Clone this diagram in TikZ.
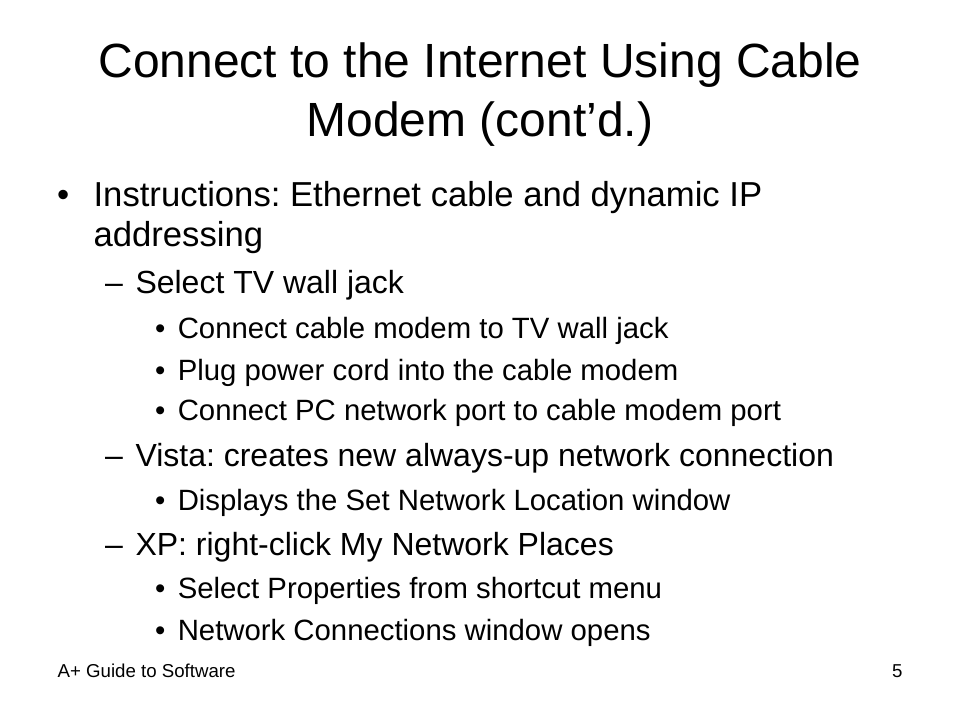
\documentclass[tikz,border=0pt]{standalone}
\usepackage{fontspec}
\setmainfont{Liberation Sans}
\frenchspacing
\begin{document}
\begin{tikzpicture}[x=0.75pt,y=-0.75pt,
  txt/.style={anchor=base west,inner sep=0pt,outer sep=0pt,text=black},
  ttl/.style={anchor=base,inner sep=0pt,outer sep=0pt,font=\fontsize{36}{43}\selectfont},
  lone/.style={txt,font=\fontsize{26}{31}\selectfont},
  ltwo/.style={txt,font=\fontsize{24}{29}\selectfont},
  lthree/.style={txt,font=\fontsize{22}{26}\selectfont},
  foot/.style={inner sep=0pt,outer sep=0pt,font=\fontsize{14}{17}\selectfont}]
\fill[white] (0,0) rectangle (960,720);
\useasboundingbox (0,0) rectangle (960,720);
% title
\node[ttl] (t1) at (480,78) {Connect to the Internet Using Cable};
\node[ttl] (t2) at (480,137) {Modem (cont’d.)};
% level 1
\node[lone] (b1) at (57,206.7) {•};
\node[lone] (l1a) at (93.6,206.7) {Instructions: Ethernet cable and dynamic IP};
\node[lone] (l1b) at (93.6,246.7) {addressing};
% level 2: Select TV wall jack
\node[ltwo] (d1) at (105,293) {–};
\node[ltwo] (s1) at (135.5,293) {Select TV wall jack};
\node[lthree] (b31) at (155,339) {•};
\node[lthree] (s11) at (177.8,339) {Connect cable modem to TV wall jack};
\node[lthree] (b32) at (155,380) {•};
\node[lthree] (s12) at (177.8,380) {Plug power cord into the cable modem};
\node[lthree] (b33) at (155,420) {•};
\node[lthree] (s13) at (177.8,420) {Connect PC network port to cable modem port};
% level 2: Vista
\node[ltwo] (d2) at (105,466.7) {–};
\node[ltwo] (s2) at (135.5,466.7) {Vista: creates new always-up network connection};
\node[lthree] (b34) at (155,510) {•};
\node[lthree] (s21) at (177.8,510) {Displays the Set Network Location window};
% level 2: XP
\node[ltwo] (d3) at (105,555) {–};
\node[ltwo] (s3) at (135.5,555) {XP: right-click My Network Places};
\node[lthree] (b35) at (155,598) {•};
\node[lthree] (s31) at (177.8,598) {Select Properties from shortcut menu};
\node[lthree] (b36) at (155,640) {•};
\node[lthree] (s32) at (177.8,640) {Network Connections window opens};
% footer
\node[foot,anchor=base west] (ft) at (57.6,677) {A+ Guide to Software};
\node[foot,anchor=base east] (pg) at (902.4,677) {5};
\end{tikzpicture}
\end{document}
